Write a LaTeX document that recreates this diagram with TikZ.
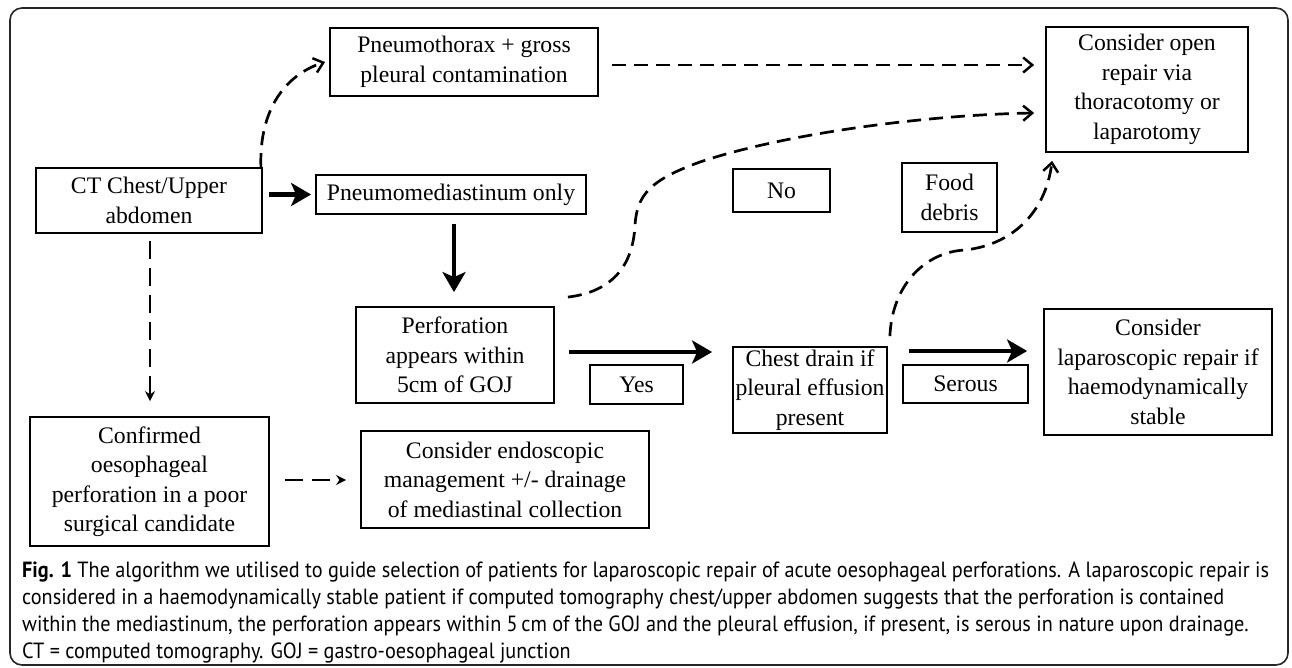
\documentclass[tikz,border=0pt]{standalone}
\usepackage{fontspec}
\setmainfont{Liberation Serif}
\newfontfamily\capfont[FakeStretch=0.92]{PT Sans}
\usetikzlibrary{arrows.meta,calc}
\tikzset{
  box/.style={draw, line width=1.8pt, align=center, inner sep=0pt,
    font=\fontsize{23.7}{29.5}\selectfont},
  thickarrow/.style={line width=4.5pt, -{Stealth[length=20pt,width=23pt,inset=5pt]}},
  dasharrow/.style={line width=2.7pt, dash pattern=on 14pt off 8pt,
    -{Straight Barb[length=9pt,width=15pt,line width=2.5pt]}},
  smalldash/.style={line width=2.2pt, dash pattern=on 18pt off 9pt,
    -{Stealth[length=10pt,width=10pt]}},
}
\begin{document}
\begin{tikzpicture}[x=1pt,y=-1pt]
\useasboundingbox (0,0) rectangle (1292,668);
\fill[white] (0,0) rectangle (1292,668);
\draw[line width=1.6pt, rounded corners=12pt, black!85] (10,8) rectangle (1288,665);

\node[box, minimum width=268pt, minimum height=68pt]  (pmth)  at (464,62)     {Pneumothorax + gross\\pleural contamination};
\node[box, minimum width=202pt, minimum height=125pt] (open)  at (1147,89.5)  {Consider open\\repair via\\thoracotomy or\\laparotomy};
\node[box, minimum width=226pt, minimum height=65pt]  (ct)    at (149,200.5)  {CT Chest/Upper\\abdomen};
\node[box, minimum width=270pt, minimum height=39pt]  (pmed)  at (451,194.5)  {Pneumomediastinum only};
\node[box, minimum width=97pt,  minimum height=43pt]  (no)    at (781.5,190.5){No};
\node[box, minimum width=95pt,  minimum height=69pt]  (food)  at (949.5,197.5){Food\\debris};
\node[box, minimum width=198pt, minimum height=96pt]  (perf)  at (455,355)    {Perforation\\appears within\\5cm of GOJ};
\node[box, minimum width=93pt,  minimum height=39pt]  (yes)   at (636.5,384.5){Yes};
\node[box, minimum width=154pt, minimum height=86pt]  (chest) at (810,390)    {Chest drain if\\pleural effusion\\present};
\node[box, minimum width=125pt, minimum height=38pt]  (serous) at (965.5,384) {Serous};
\node[box, minimum width=228pt, minimum height=126pt] (lap)   at (1158,372)   {Consider\\laparoscopic repair if\\haemodynamically\\stable};
\node[box, minimum width=239pt, minimum height=129pt] (conf)  at (149.5,481.5) {Confirmed\\oesophageal\\perforation in a poor\\surgical candidate};
\node[box, minimum width=288pt, minimum height=97pt]  (endo)  at (505,479.5)  {Consider endoscopic\\management +/- drainage\\of mediastinal collection};

% thick arrows
\draw[thickarrow] ($(ct.east)+(6,-6)$) -- ($(pmed.west)+(-4,0)$);
\draw[thickarrow] ($(pmed.south)+(3,9)$) -- ($(perf.north)+(-1,-14)$);
\draw[thickarrow] ($(perf.east)+(14,-3)$) -- ($(chest.west)+(-20,-38)$);
\draw[thickarrow] ($(chest.east)+(21,-39)$) -- ($(lap.west)+(-16,-21)$);

% dashed arrows
\draw[dasharrow] ($(pmth.east)+(13,3)$) -- ($(open.west)+(-11,-24.5)$);
\draw[dasharrow] ($(ct.north east)+(-2,0)$) .. controls (259,110) and (285,75) .. ($(pmth.west)+(-4,0)$);
\draw[dasharrow] ($(perf.north east)+(13,-9)$) .. controls (610,292) and (633,268) .. (635,225)
   .. controls (637,195) and (650,180) .. (700,162)
   .. controls (780,135) and (920,115) .. ($(open.west)+(-11,23.5)$);
\draw[dasharrow] ($(chest.north east)+(2,-10)$) .. controls (892,285) and (925,252) .. (965,250)
   .. controls (1010,245) and (1045,215) .. ($(open.south west)+(7,8)$);
\draw[smalldash] ($(ct.south)+(1,7)$) -- ($(conf.north)+(0.5,-15)$);
\draw[smalldash] ($(conf.east)+(15,-1.5)$) -- ($(endo.west)+(-14,0.5)$);

% caption
\node[anchor=north west, inner sep=0pt, align=left,
      font=\capfont\fontsize{22}{27}\selectfont] (cap) at (22,562)
{\textbf{Fig. 1} The algorithm we utilised to guide selection of patients for laparoscopic repair of acute oesophageal perforations. A laparoscopic repair is\\
considered in a haemodynamically stable patient if computed tomography chest/upper abdomen suggests that the perforation is contained\\
within the mediastinum, the perforation appears within 5\,cm of the GOJ and the pleural effusion, if present, is serous in nature upon drainage.\\
CT = computed tomography. GOJ = gastro-oesophageal junction};
\end{tikzpicture}
\end{document}
